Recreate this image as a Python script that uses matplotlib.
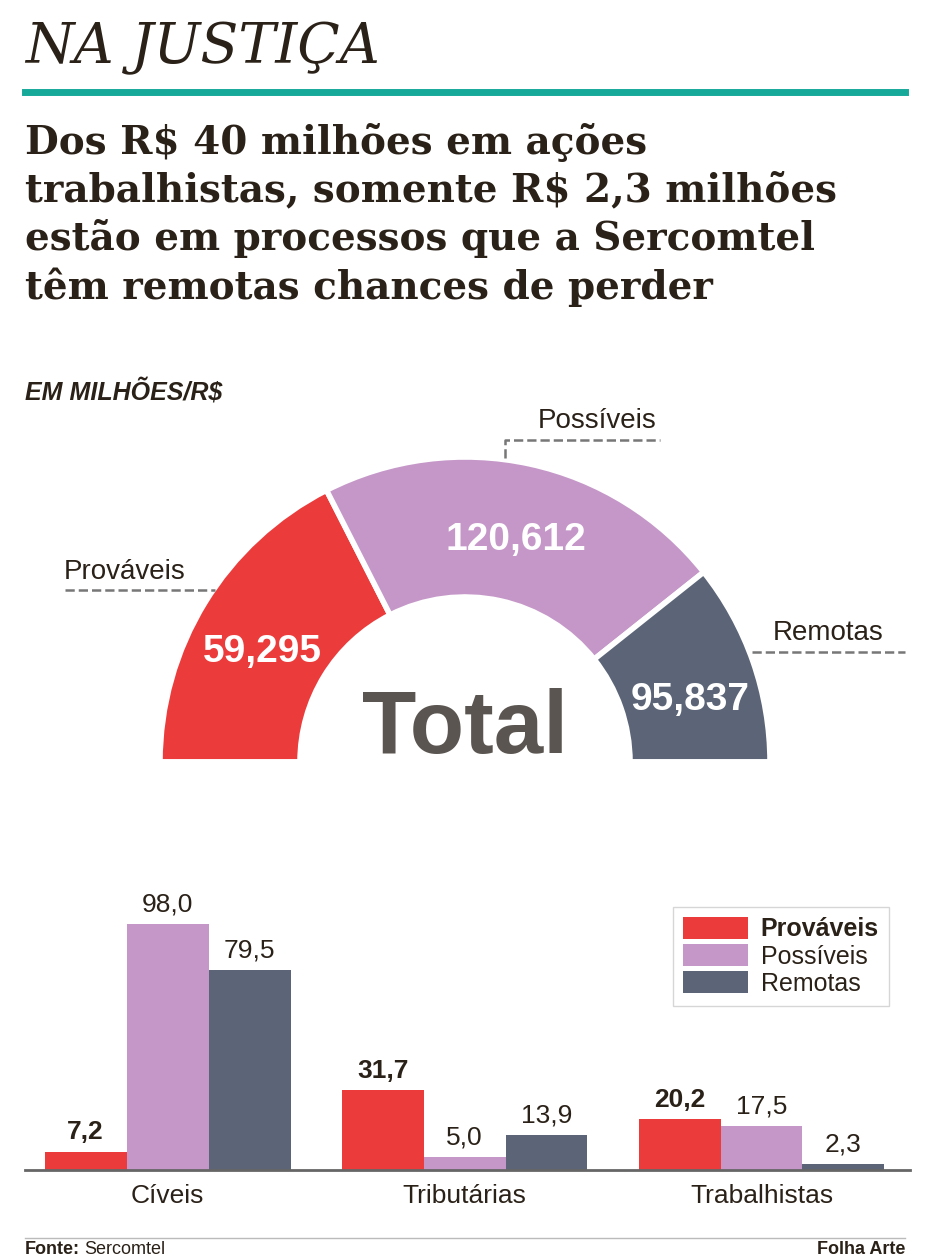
import matplotlib.pyplot as plt
import numpy as np

plt.rcParams['font.family'] = ['Liberation Sans', 'DejaVu Sans']

# 데이터
total = {"Prováveis": 59.295, "Possíveis": 120.612, "Remotas": 95.837}
arc = {"Prováveis": 63.0, "Possíveis": 78.5, "Remotas": 38.5}  # 원본 그래픽의 각도(도)
groups = ["Cíveis", "Tributárias", "Trabalhistas"]
bars = {
    "Prováveis": [7.2, 31.7, 20.2],
    "Possíveis": [98.0, 5.0, 17.5],
    "Remotas": [79.5, 13.9, 2.3],
}
colors = {"Prováveis": "#ec3b3b", "Possíveis": "#c597c8", "Remotas": "#5b6577"}
dark = "#2a2118"

W, H = 930, 1260
fig = plt.figure(figsize=(9.3, 12.6), dpi=100)

# 반원 도넛
ax_pie = fig.add_axes([(465 - 310) / W, (H - 762 - 310) / H, 620 / W, 620 / H])
vals = list(arc.values())
ax_pie.pie(vals + [sum(vals)], colors=list(colors.values()) + ['none'],
           startangle=180, counterclock=False, radius=305 / 310,
           wedgeprops=dict(width=140 / 310, edgecolor='white', linewidth=4))
ax_pie.set_xlim(-1, 1)
ax_pie.set_ylim(-1, 1)
ax_pie.set_aspect('auto')

# 막대 차트
ax = fig.add_axes([25 / W, (H - 1170) / H, 885 / W, 300 / H])
x = np.arange(len(groups))
w = 0.276
for i, (name, v) in enumerate(bars.items()):
    pos = x + (i - 1) * w
    ax.bar(pos, v, width=w, color=colors[name], label=name)
    for p, val in zip(pos, v):
        ax.text(p, val + 3, f"{val:.1f}".replace('.', ','), ha='center', va='bottom', fontsize=19,
                color=dark, weight='bold' if name == "Prováveis" else 'normal')
ax.set_xlim(-0.48, 2.5)
ax.set_ylim(0, 119.5)
ax.set_xticks(x)
ax.set_xticklabels(groups, fontsize=19, color=dark)
ax.tick_params(axis='x', length=0, pad=10)
ax.set_yticks([])
for s in ['top', 'right', 'left']:
    ax.spines[s].set_visible(False)
ax.spines['bottom'].set_color('#666666')
ax.spines['bottom'].set_linewidth(2)
leg = ax.legend(loc='upper right', bbox_to_anchor=(0.99, 0.92), fontsize=18, frameon=True,
                fancybox=False, edgecolor='#cccccc', handlelength=2.6, handleheight=1.0,
                handletextpad=0.5, labelspacing=0.1, borderpad=0.4)
leg.get_texts()[0].set_weight('bold')
for t in leg.get_texts():
    t.set_color(dark)

# 텍스트 오버레이 (픽셀 좌표)
ov = fig.add_axes([0, 0, 1, 1], zorder=5)
ov.patch.set_alpha(0)
ov.set_xlim(0, W)
ov.set_ylim(H, 0)
ov.axis('off')
ov.text(25, 48, "NA JUSTIÇA", fontsize=40, family="DejaVu Serif", style='italic',
        color=dark, va='center')
ov.plot([25, 905], [92, 92], color="#16a99a", lw=5)
ov.text(25, 215, "Dos R$ 40 milhões em ações\ntrabalhistas, somente R$ 2,3 milhões\n"
        "estão em processos que a Sercomtel\ntêm remotas chances de perder",
        fontsize=28, family="DejaVu Serif", weight='bold', color=dark, va='center',
        linespacing=1.3)
ov.text(25, 392, "EM MILHÕES/R$", fontsize=18, weight='bold', style='italic', color=dark, va='center')

# 도넛 라벨
ov.text(597, 421, "Possíveis", fontsize=20, color=dark, ha='center', va='center')
ov.plot([505, 505, 660], [458, 440, 440], color='#777777', lw=1.8, ls='--')
ov.text(125, 572, "Prováveis", fontsize=20, color=dark, ha='center', va='center')
ov.plot([65, 215], [590, 590], color='#777777', lw=1.8, ls='--')
ov.text(828, 633, "Remotas", fontsize=20, color=dark, ha='center', va='center')
ov.plot([752, 905], [652, 652], color='#777777', lw=1.8, ls='--')
ov.text(262, 652, "59,295", fontsize=28, weight='bold', color='white', ha='center', va='center')
ov.text(516, 540, "120,612", fontsize=28, weight='bold', color='white', ha='center', va='center')
ov.text(690, 700, "95,837", fontsize=28, weight='bold', color='white', ha='center', va='center')
ov.text(465, 730, "Total", fontsize=64, weight='bold', color='#5a5550', ha='center', va='center')

ov.text(25, 1250, "Fonte:", fontsize=13, weight='bold', color=dark, va='center')
ov.text(84, 1250, "Sercomtel", fontsize=13, color=dark, va='center')
ov.text(905, 1250, "Folha Arte", fontsize=13, weight='bold', color=dark, va='center', ha='right')
ov.plot([25, 905], [1238, 1238], color='#bbbbbb', lw=1)

plt.savefig("out.png", dpi=100)
plt.close(fig)
